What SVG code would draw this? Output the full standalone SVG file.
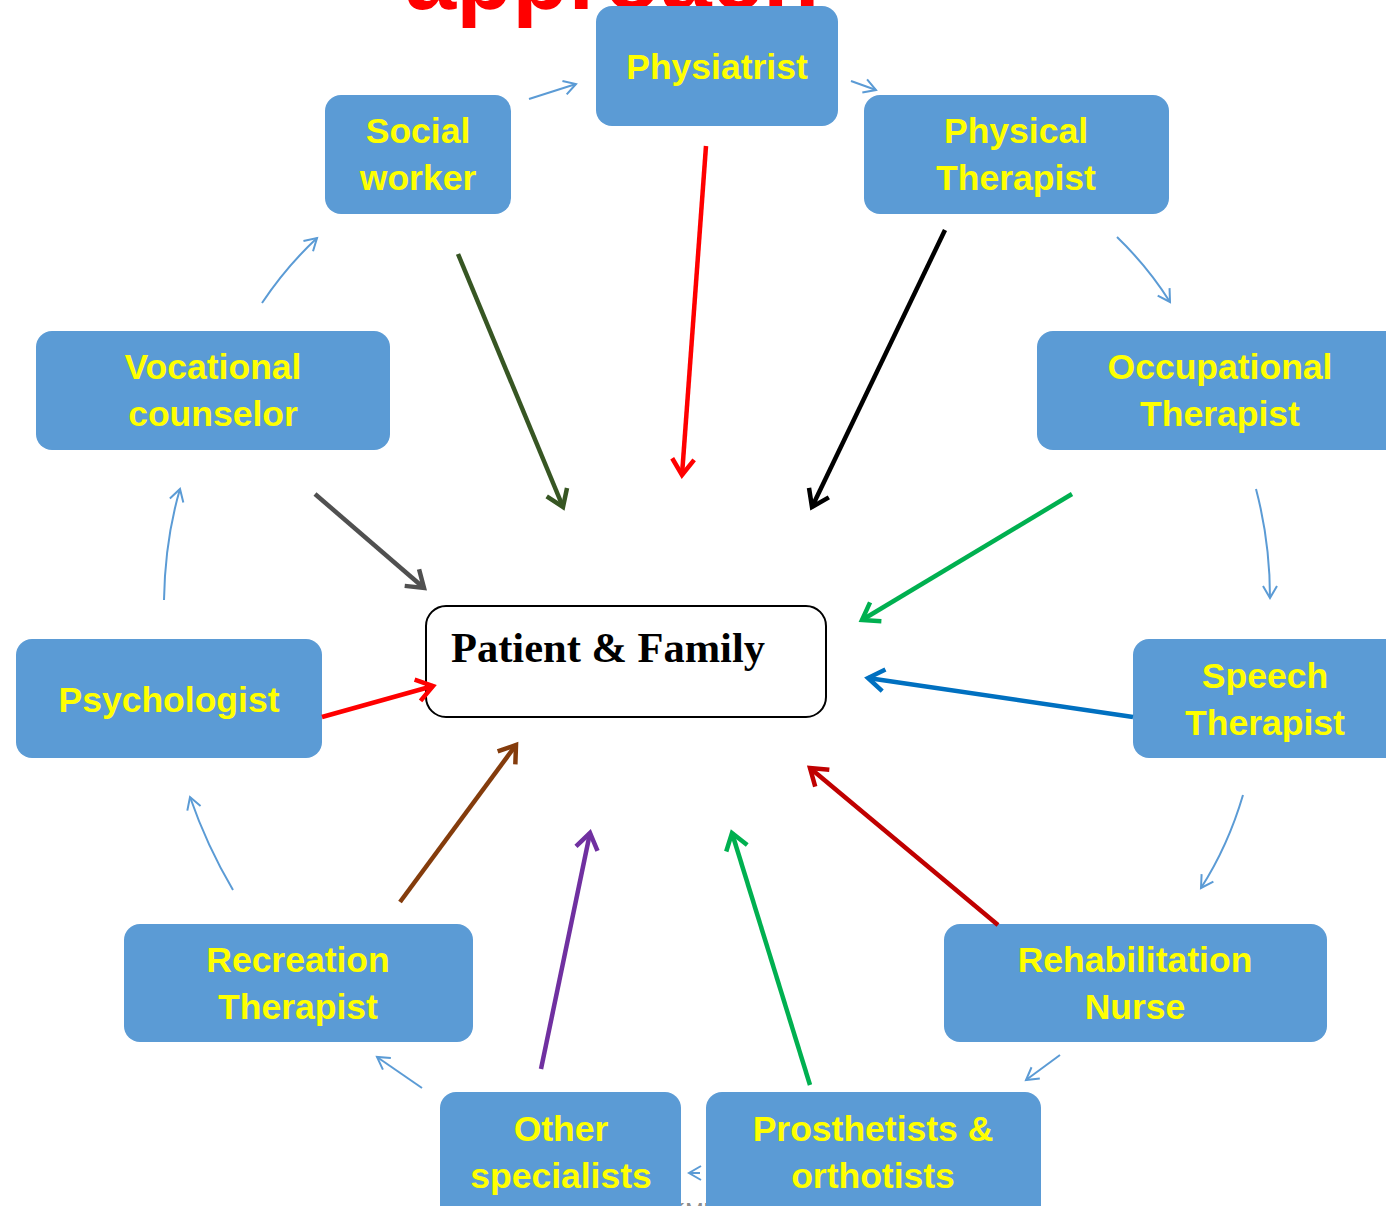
<svg xmlns="http://www.w3.org/2000/svg" width="1386" height="1206" viewBox="0 0 1386 1206">
<style>
.box{fill:#5B9BD5;}
.lbl{font-family:"Liberation Sans",Arial,sans-serif;font-weight:bold;font-size:35.5px;fill:#FFFF00;text-anchor:middle;}
.thin{fill:none;stroke:#5B9BD5;stroke-width:2;marker-end:url(#mThin);}
.thick{fill:none;stroke-width:4.5;}
</style>
<defs>
<marker id="mThin" viewBox="0 0 16 18" refX="14" refY="9" markerWidth="16" markerHeight="18" markerUnits="userSpaceOnUse" orient="auto" overflow="visible"><path d="M2,2 L14,9 L2,16" fill="none" stroke="#5B9BD5" stroke-width="2"/></marker>
<marker id="mOlive" viewBox="0 0 24 24" refX="20" refY="12" markerWidth="24" markerHeight="24" markerUnits="userSpaceOnUse" orient="auto" overflow="visible"><path d="M4,1 L20,12 L4,23" fill="none" stroke="#375623" stroke-width="4.5"/></marker>
<marker id="mRed" viewBox="0 0 24 24" refX="20" refY="12" markerWidth="24" markerHeight="24" markerUnits="userSpaceOnUse" orient="auto" overflow="visible"><path d="M4,1 L20,12 L4,23" fill="none" stroke="#FF0000" stroke-width="4.5"/></marker>
<marker id="mBlack" viewBox="0 0 24 24" refX="20" refY="12" markerWidth="24" markerHeight="24" markerUnits="userSpaceOnUse" orient="auto" overflow="visible"><path d="M4,1 L20,12 L4,23" fill="none" stroke="#000000" stroke-width="4.5"/></marker>
<marker id="mGray" viewBox="0 0 24 24" refX="20" refY="12" markerWidth="24" markerHeight="24" markerUnits="userSpaceOnUse" orient="auto" overflow="visible"><path d="M4,1 L20,12 L4,23" fill="none" stroke="#505050" stroke-width="4.5"/></marker>
<marker id="mGreen" viewBox="0 0 24 24" refX="20" refY="12" markerWidth="24" markerHeight="24" markerUnits="userSpaceOnUse" orient="auto" overflow="visible"><path d="M4,1 L20,12 L4,23" fill="none" stroke="#00B050" stroke-width="4.5"/></marker>
<marker id="mBlue" viewBox="0 0 24 24" refX="20" refY="12" markerWidth="24" markerHeight="24" markerUnits="userSpaceOnUse" orient="auto" overflow="visible"><path d="M4,1 L20,12 L4,23" fill="none" stroke="#0070C0" stroke-width="4.5"/></marker>
<marker id="mBrown" viewBox="0 0 24 24" refX="20" refY="12" markerWidth="24" markerHeight="24" markerUnits="userSpaceOnUse" orient="auto" overflow="visible"><path d="M4,1 L20,12 L4,23" fill="none" stroke="#843C0C" stroke-width="4.5"/></marker>
<marker id="mPurple" viewBox="0 0 24 24" refX="20" refY="12" markerWidth="24" markerHeight="24" markerUnits="userSpaceOnUse" orient="auto" overflow="visible"><path d="M4,1 L20,12 L4,23" fill="none" stroke="#7030A0" stroke-width="4.5"/></marker>
<marker id="mDarkRed" viewBox="0 0 24 24" refX="20" refY="12" markerWidth="24" markerHeight="24" markerUnits="userSpaceOnUse" orient="auto" overflow="visible"><path d="M4,1 L20,12 L4,23" fill="none" stroke="#C00000" stroke-width="4.5"/></marker>
</defs>
<rect width="1386" height="1206" fill="#FFFFFF"/>
<text x="405" y="9" font-family="Liberation Sans,Arial,sans-serif" font-weight="bold" font-size="92" fill="#FF0000">approach</text>
<text x="618" y="1218" font-family="Liberation Sans,Arial,sans-serif" font-size="22" fill="#8C8C8C">Prof. KMU</text>
<g id="nodes">
<g id="physiatrist"><rect class="box" x="596" y="6" width="242" height="120" rx="16"/><text class="lbl" x="717" y="79">Physiatrist</text></g>
<g id="social-worker"><rect class="box" x="325" y="95" width="186" height="119" rx="16"/><text class="lbl" x="418" y="143">Social</text><text class="lbl" x="418" y="190">worker</text></g>
<g id="physical-therapist"><rect class="box" x="864" y="95" width="305" height="119" rx="16"/><text class="lbl" x="1016" y="143">Physical</text><text class="lbl" x="1016" y="190">Therapist</text></g>
<g id="vocational-counselor"><rect class="box" x="36" y="331" width="354" height="119" rx="16"/><text class="lbl" x="213" y="379">Vocational</text><text class="lbl" x="213" y="426">counselor</text></g>
<g id="occupational-therapist"><rect class="box" x="1037" y="331" width="370" height="119" rx="16"/><text class="lbl" x="1220" y="379">Occupational</text><text class="lbl" x="1220" y="426">Therapist</text></g>
<g id="psychologist"><rect class="box" x="16" y="639" width="306" height="119" rx="16"/><text class="lbl" x="169" y="712">Psychologist</text></g>
<g id="speech-therapist"><rect class="box" x="1133" y="639" width="270" height="119" rx="16"/><text class="lbl" x="1265" y="688">Speech</text><text class="lbl" x="1265" y="735">Therapist</text></g>
<g id="recreation-therapist"><rect class="box" x="124" y="924" width="349" height="118" rx="16"/><text class="lbl" x="298" y="972">Recreation</text><text class="lbl" x="298" y="1019">Therapist</text></g>
<g id="rehabilitation-nurse"><rect class="box" x="944" y="924" width="383" height="118" rx="16"/><text class="lbl" x="1135" y="972">Rehabilitation</text><text class="lbl" x="1135" y="1019">Nurse</text></g>
<g id="other-specialists"><rect class="box" x="440" y="1092" width="241" height="130" rx="16"/><text class="lbl" x="561" y="1141">Other</text><text class="lbl" x="561" y="1188">specialists</text></g>
<g id="prosthetists"><rect class="box" x="706" y="1092" width="335" height="130" rx="16"/><text class="lbl" x="873" y="1141">Prosthetists &amp;</text><text class="lbl" x="873" y="1188">orthotists</text></g>
<g id="patient-family"><rect x="426" y="606" width="400" height="111" rx="20" fill="#FFFFFF" stroke="#000000" stroke-width="2"/><text x="451" y="662" font-family="Liberation Serif,Times New Roman,serif" font-weight="bold" font-size="42.5" fill="#000000">Patient &amp; Family</text></g>
</g>
<g id="connectors">
<path class="thin" d="M529,99 L576,84"/>
<path class="thin" d="M851,81 L876,90"/>
<path class="thin" d="M1117,237 Q1148,267 1170,302"/>
<path class="thin" d="M1256,489 Q1270,542 1270,598"/>
<path class="thin" d="M1243,795 Q1228,846 1201,888"/>
<path class="thin" d="M1060,1055 L1026,1080"/>
<path class="thin" d="M700,1173 L689,1173"/>
<path class="thin" d="M422,1088 L377,1057"/>
<path class="thin" d="M233,890 Q207,846 190,797"/>
<path class="thin" d="M164,600 Q165,540 180,489"/>
<path class="thin" d="M262,303 Q286,267 317,238"/>
<path class="thick" stroke="#375623" marker-end="url(#mOlive)" d="M458,254 L563,507"/>
<path class="thick" stroke="#FF0000" marker-end="url(#mRed)" d="M706,146 L682,475"/>
<path class="thick" stroke="#000000" marker-end="url(#mBlack)" d="M945,230 L812,507"/>
<path class="thick" stroke="#505050" marker-end="url(#mGray)" d="M315,494 L424,588"/>
<path class="thick" stroke="#00B050" marker-end="url(#mGreen)" d="M1072,494 L862,620"/>
<path class="thick" stroke="#0070C0" marker-end="url(#mBlue)" d="M1133,717 L868,678"/>
<path class="thick" stroke="#FF0000" marker-end="url(#mRed)" d="M322,717 L433,686"/>
<path class="thick" stroke="#843C0C" marker-end="url(#mBrown)" d="M400,902 L516,745"/>
<path class="thick" stroke="#7030A0" marker-end="url(#mPurple)" d="M541,1069 L590,833"/>
<path class="thick" stroke="#00B050" marker-end="url(#mGreen)" d="M810,1085 L732,833"/>
<path class="thick" stroke="#C00000" marker-end="url(#mDarkRed)" d="M998,925 L810,768"/>
</g>
</svg>
